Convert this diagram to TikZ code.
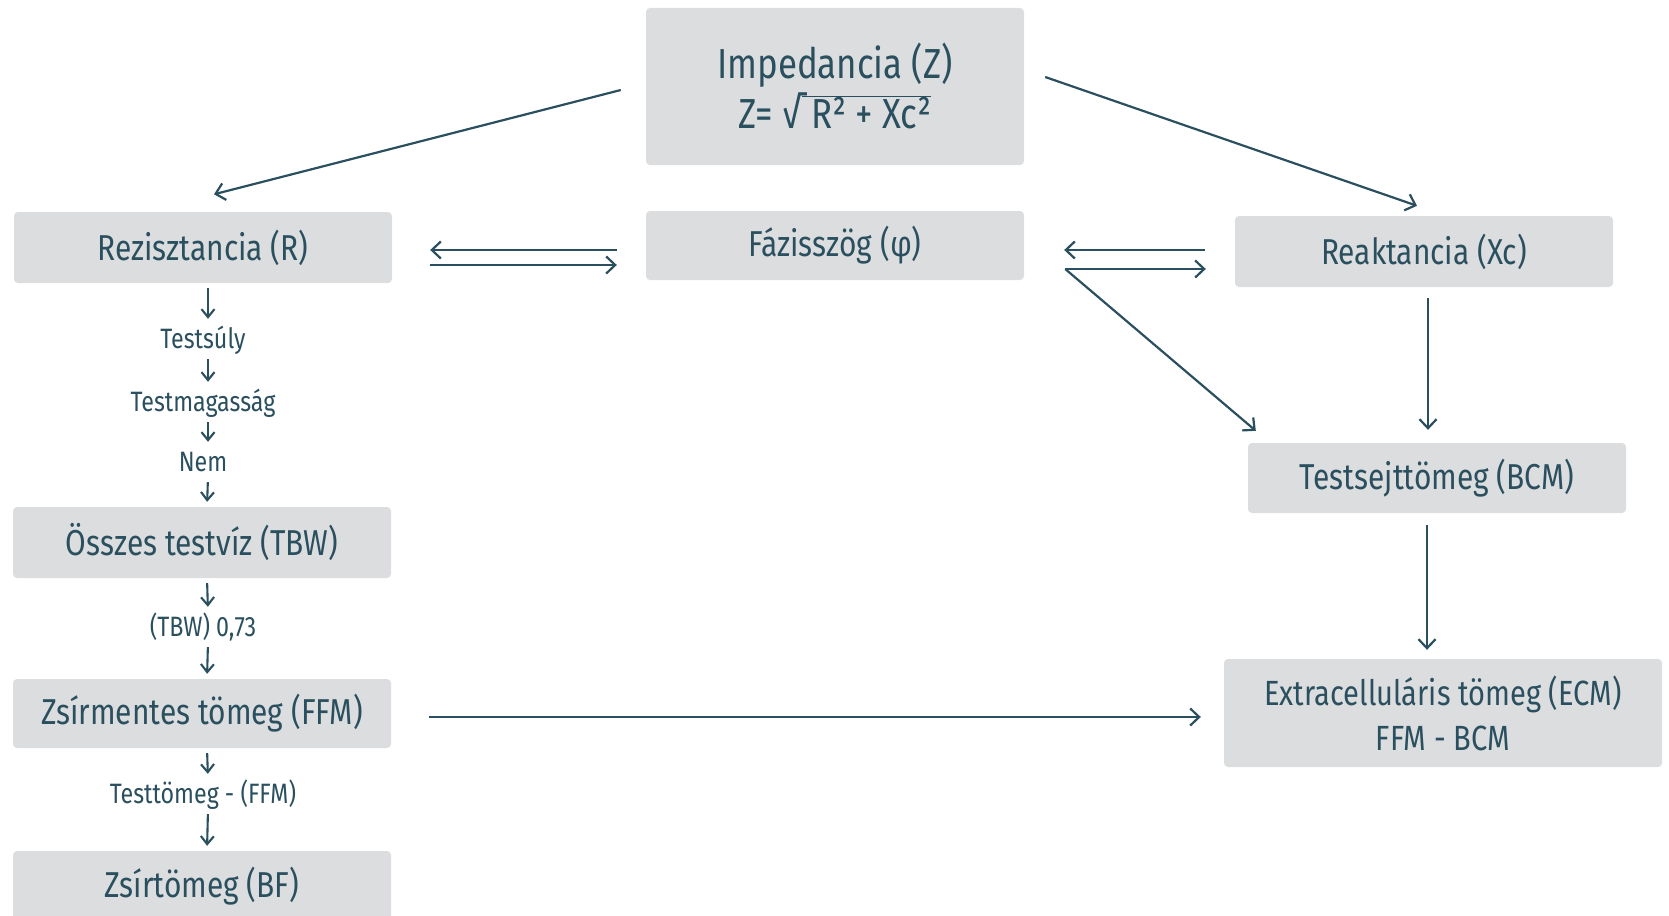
\documentclass[tikz,border=0pt]{standalone}
\usepackage{fontspec}
\setmainfont{Fira Sans}[FakeStretch=0.83]
\usetikzlibrary{arrows.meta}
\definecolor{inkteal}{HTML}{2A4F5E}
\definecolor{boxgray}{HTML}{DCDDDF}
\tikzset{
  box/.style={fill=boxgray,rounded corners=4pt,text=inkteal,minimum width=378pt,
    minimum height=70pt,inner sep=0pt,align=center,font=\fontsize{36}{44}\selectfont},
  lbl/.style={text=inkteal,inner sep=0pt,text height=24pt,text depth=6pt,
    font=\fontsize{28}{32}\selectfont},
  arr/.style={draw=inkteal,line width=2.2pt,-{Straight Barb[length=9pt,width=17pt]}},
  sarr/.style={draw=inkteal,line width=2.1pt,-{Straight Barb[length=8pt,width=13pt]},
    shorten <=5pt,shorten >=5pt}
}
\begin{document}
\begin{tikzpicture}[x={(1pt,0)},y={(0,-1pt)}]
\useasboundingbox (0,0) rectangle (1669,915);
% boxes
\node[box,minimum height=157pt,font=\fontsize{42}{50}\selectfont] (imp) at (835,86.5)
  {Impedancia (Z)\\Z= √$\overline{\hbox{\ R² + Xc²}}$};
\node[box,minimum height=71pt] (rez) at (203,247.5) {Rezisztancia (R)};
\node[box,minimum height=69pt] (faz) at (835,245.5) {Fázisszög (φ)};
\node[box,minimum height=71pt] (reak) at (1424,251.5) {Reaktancia (Xc)};
\node[box] (bcm) at (1437,478) {Testsejttömeg (BCM)};
\node[box,minimum width=438pt,minimum height=108pt,font=\fontsize{35}{45}\selectfont] (ecm)
  at (1443,713) {Extracelluláris tömeg (ECM)\\FFM - BCM};
\node[box,minimum height=71pt] (tbw) at (202,542.5) {Összes testvíz (TBW)};
\node[box,minimum height=69pt] (ffm) at (202,713.5) {Zsírmentes tömeg (FFM)};
\node[box,minimum height=71pt] (bf) at (202,886.5) {Zsírtömeg (BF)};
% left column labels
\node[lbl] (suly) at (203,339) {Testsúly};
\node[lbl] (mag) at (203,402) {Testmagasság};
\node[lbl] (nem) at (203,462) {Nem};
\node[lbl] (tbwl) at (203,627) {(TBW) 0,73};
\node[lbl] (ttl) at (203,794) {Testtömeg - (FFM)};
\foreach \a/\b in {rez/suly,suly/mag,mag/nem,nem/tbw,tbw/tbwl,tbwl/ffm,ffm/ttl,ttl/bf}
  \draw[sarr] ([xshift=5pt]\a.south) -- ([xshift=5pt]\b.north);
% connectors
\draw[arr] ([shift={(-25,3.5)}]imp.west) -- ([shift={(11,-17.5)}]rez.north);
\draw[arr] ([shift={(21,-9.5)}]imp.east) -- ([shift={(-7,-10)}]reak.north);
\draw[arr] ([shift={(-29,4.5)}]faz.west) -- ([shift={(38,2.5)}]rez.east);
\draw[arr] ([shift={(38,17.5)}]rez.east) -- ([shift={(-29,19.5)}]faz.west);
\draw[arr] ([shift={(-30,-1.5)}]reak.west) -- ([shift={(40,4.5)}]faz.east);
\draw[arr] ([shift={(41,23.5)}]faz.east) -- ([shift={(-29,17.5)}]reak.west);
\draw[arr] ([shift={(41,23.5)}]faz.east) -- ([shift={(8,-12)}]bcm.north west);
\draw[arr] ([shift={(4,11)}]reak.south) -- ([shift={(-9,-13)}]bcm.north);
\draw[arr] ([shift={(-10,12)}]bcm.south) -- ([shift={(-16,-9)}]ecm.north);
\draw[arr] ([shift={(38,3.5)}]ffm.east) -- ([shift={(-23,4)}]ecm.west);
\end{tikzpicture}
\end{document}
